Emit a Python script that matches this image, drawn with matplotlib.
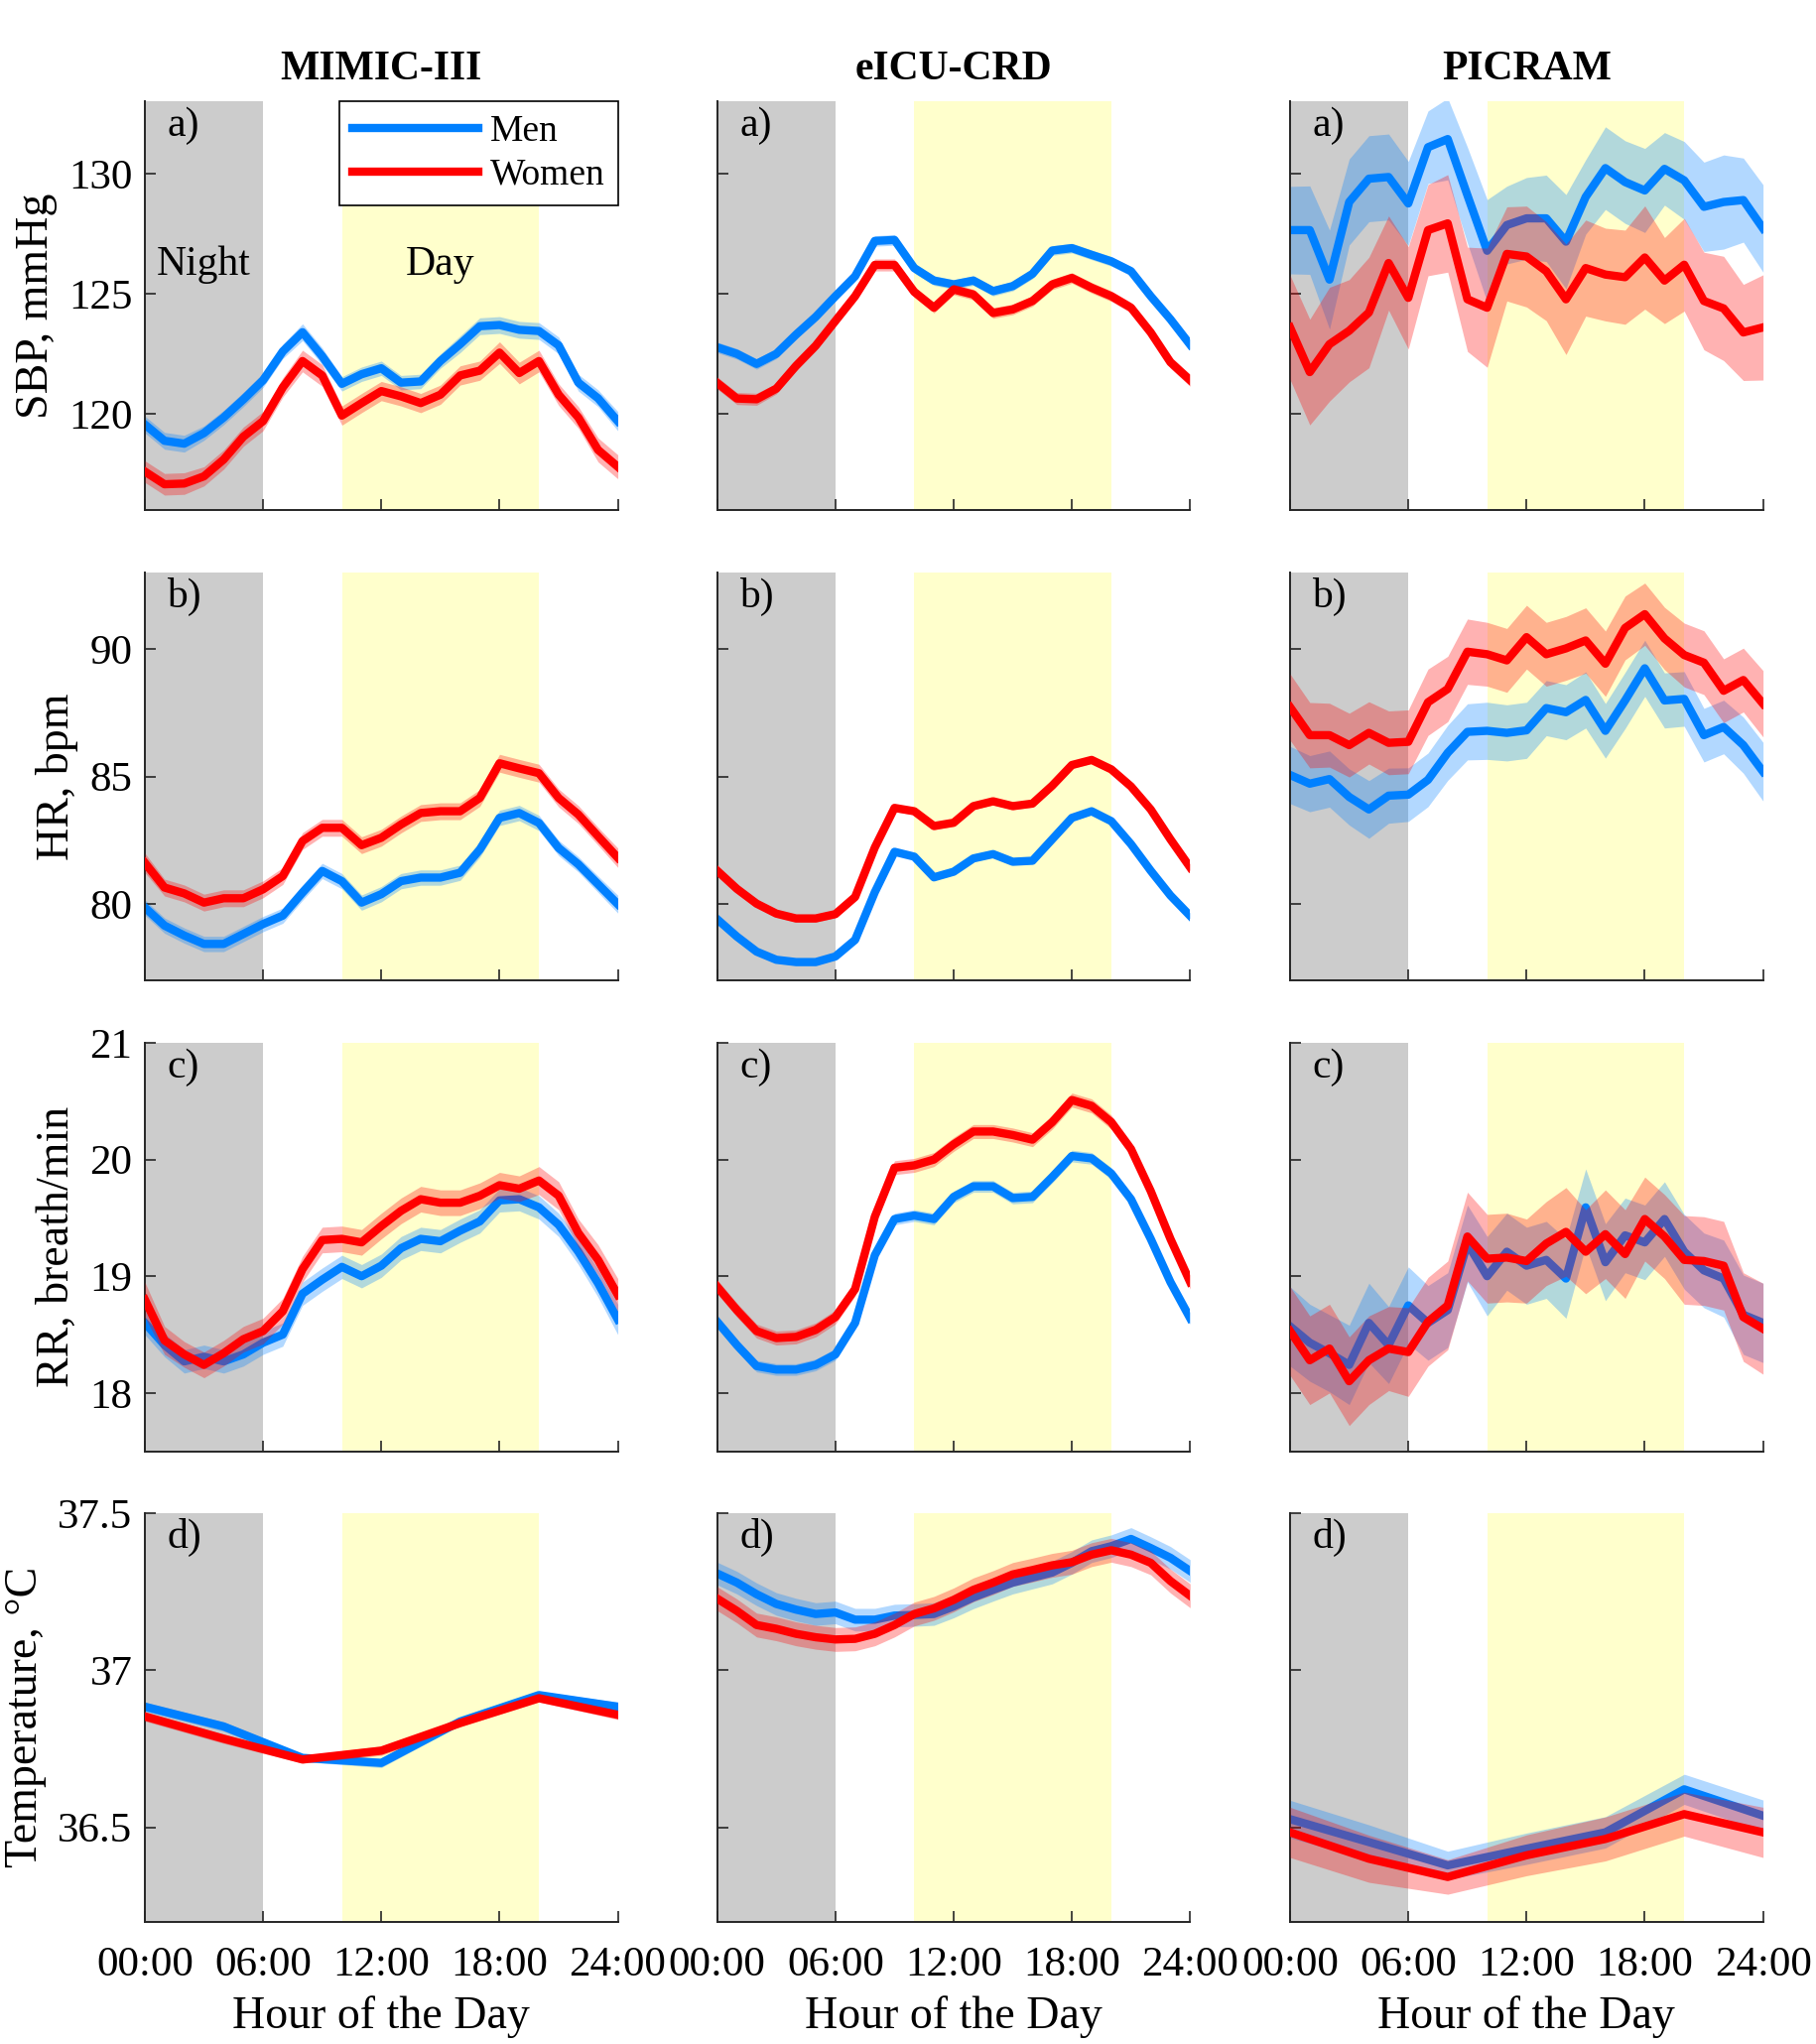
import matplotlib
matplotlib.use('Agg')
import matplotlib.pyplot as plt

plt.rcParams['font.family'] = ['Liberation Serif', 'DejaVu Serif']

# ---- data ----
hours = list(range(25))
temp_hours_sparse = [0, 4, 8, 12, 16, 20, 24]

datasets = ['MIMIC-III', 'eICU-CRD', 'PICRAM']
panel_tags = ['a)', 'b)', 'c)', 'd)']
y_labels = ['SBP, mmHg', 'HR, bpm', 'RR, breath/min', 'Temperature, °C']
y_ticks = [[120, 125, 130], [80, 85, 90], [18, 19, 20, 21], [36.5, 37, 37.5]]
y_ticklabels = [['120', '125', '130'], ['80', '85', '90'], ['18', '19', '20', '21'],
                ['36.5', '37', '37.5']]
y_limits = [(116, 133), (77, 93), (17.5, 21), (36.2, 37.5)]
x_ticks = [0, 6, 12, 18, 24]
x_ticklabels = ['00:00', '06:00', '12:00', '18:00', '24:00']

# SBP
mimic_sbp_men = [119.56, 118.88, 118.76, 119.2, 119.85, 120.6, 121.4, 122.6, 123.4, 122.4, 121.25, 121.65,
                 121.9, 121.3, 121.35, 122.2, 122.9, 123.65, 123.7, 123.5, 123.45, 122.85, 121.3, 120.65, 119.7]
mimic_sbp_men_ci = [0.35, 0.35, 0.35, 0.3, 0.3, 0.3, 0.3, 0.3, 0.35, 0.35, 0.3, 0.3,
                    0.3, 0.3, 0.3, 0.3, 0.35, 0.35, 0.35, 0.35, 0.35, 0.35, 0.35, 0.35, 0.4]
mimic_sbp_women = [117.6, 117.07, 117.1, 117.4, 118.1, 119.05, 119.7, 121.1, 122.2, 121.6, 119.93, 120.45,
                   120.95, 120.73, 120.45, 120.8, 121.6, 121.8, 122.55, 121.7, 122.2, 120.8, 119.85, 118.5, 117.8]
mimic_sbp_women_ci = [0.45, 0.45, 0.45, 0.4, 0.4, 0.4, 0.4, 0.4, 0.45, 0.45, 0.4, 0.4,
                      0.4, 0.4, 0.4, 0.4, 0.4, 0.4, 0.45, 0.45, 0.45, 0.45, 0.45, 0.5, 0.5]

eicu_sbp_men = [122.77, 122.5, 122.08, 122.5, 123.3, 124.04, 124.9, 125.73, 127.2, 127.24, 126.07, 125.55,
                125.39, 125.55, 125.11, 125.32, 125.83, 126.8, 126.9, 126.62, 126.35, 125.94, 124.9, 123.94, 122.88]
eicu_sbp_men_ci = [0.22, 0.22, 0.22, 0.2, 0.2, 0.2, 0.2, 0.2, 0.22, 0.22, 0.2, 0.2,
                   0.2, 0.2, 0.2, 0.2, 0.2, 0.2, 0.2, 0.2, 0.2, 0.2, 0.2, 0.22, 0.22]
eicu_sbp_women = [121.29, 120.64, 120.61, 121.05, 122.0, 122.84, 123.87, 124.9, 126.2, 126.2, 125.08, 124.42,
                  125.18, 124.97, 124.2, 124.35, 124.7, 125.39, 125.66, 125.25, 124.9, 124.42, 123.39, 122.15, 121.4]
eicu_sbp_women_ci = [0.25, 0.25, 0.25, 0.22, 0.22, 0.22, 0.22, 0.22, 0.25, 0.25, 0.22, 0.22,
                     0.22, 0.22, 0.22, 0.22, 0.22, 0.22, 0.22, 0.22, 0.22, 0.22, 0.22, 0.25, 0.25]

picram_sbp_men = [127.65, 127.65, 125.59, 128.82, 129.79, 129.86, 128.76, 131.1, 131.44, 129.1, 126.79, 127.86,
                  128.14, 128.14, 127.17, 129.03, 130.23, 129.65, 129.3, 130.2, 129.72, 128.62, 128.82, 128.9, 127.72]
picram_sbp_men_ci = [1.82, 1.84, 2.06, 1.79, 1.79, 1.79, 1.75, 1.51, 1.7, 2.0, 2.13, 1.62,
                     1.7, 1.8, 1.96, 1.55, 1.72, 1.72, 1.75, 1.51, 1.62, 1.86, 1.96, 1.75, 1.82]
picram_sbp_women = [123.6, 121.74, 122.9, 123.46, 124.22, 126.28, 124.83, 127.65, 127.93, 124.77, 124.42, 126.66,
                    126.55, 125.94, 124.77, 126.07, 125.8, 125.69, 126.51, 125.55, 126.21, 124.7, 124.39, 123.39, 123.6]
picram_sbp_women_ci = [2.17, 2.2, 2.37, 2.13, 2.3, 1.96, 2.13, 1.9, 2.03, 2.17, 2.48, 1.96,
                       2.1, 2.06, 2.3, 2.0, 1.93, 1.96, 2.15, 1.79, 1.93, 2.03, 2.17, 2.0, 2.19]

# HR
mimic_hr_men = [79.87, 79.16, 78.77, 78.44, 78.44, 78.83, 79.22, 79.55, 80.45, 81.3, 80.9, 80.06,
                80.39, 80.9, 81.04, 81.04, 81.23, 82.14, 83.38, 83.57, 83.18, 82.2, 81.56, 80.78, 80.0]
mimic_hr_men_ci = [0.3, 0.3, 0.3, 0.3, 0.3, 0.3, 0.3, 0.3, 0.3, 0.3, 0.3, 0.3,
                   0.3, 0.3, 0.3, 0.3, 0.3, 0.3, 0.3, 0.3, 0.3, 0.3, 0.3, 0.32, 0.35]
mimic_hr_women = [81.62, 80.65, 80.42, 80.06, 80.23, 80.23, 80.58, 81.1, 82.47, 82.99, 82.99, 82.31,
                  82.6, 83.12, 83.57, 83.64, 83.64, 84.16, 85.52, 85.32, 85.13, 84.16, 83.51, 82.66, 81.82]
mimic_hr_women_ci = [0.38, 0.33, 0.33, 0.33, 0.33, 0.33, 0.33, 0.33, 0.33, 0.33, 0.33, 0.33,
                     0.33, 0.33, 0.33, 0.33, 0.33, 0.33, 0.35, 0.35, 0.35, 0.35, 0.35, 0.35, 0.38]

eicu_hr_men = [79.41, 78.73, 78.14, 77.82, 77.73, 77.73, 77.95, 78.6, 80.47, 82.05, 81.86, 81.05,
               81.27, 81.79, 81.96, 81.66, 81.7, 82.54, 83.38, 83.64, 83.25, 82.35, 81.31, 80.34, 79.54]
eicu_hr_men_ci = [0.12, 0.12, 0.12, 0.12, 0.12, 0.12, 0.12, 0.12, 0.12, 0.12, 0.12, 0.12,
                  0.12, 0.12, 0.12, 0.12, 0.12, 0.12, 0.12, 0.12, 0.12, 0.12, 0.12, 0.12, 0.12]
eicu_hr_women = [81.31, 80.6, 80.02, 79.63, 79.44, 79.44, 79.61, 80.28, 82.22, 83.77, 83.64, 83.06,
                 83.19, 83.84, 84.03, 83.84, 83.94, 84.64, 85.45, 85.65, 85.28, 84.61, 83.71, 82.54, 81.44]
eicu_hr_women_ci = [0.14, 0.14, 0.14, 0.14, 0.14, 0.14, 0.14, 0.14, 0.14, 0.14, 0.14, 0.14,
                    0.14, 0.14, 0.14, 0.14, 0.14, 0.14, 0.14, 0.14, 0.14, 0.14, 0.14, 0.14, 0.14]

picram_hr_men = [85.06, 84.72, 84.9, 84.2, 83.71, 84.25, 84.29, 84.87, 85.93, 86.75, 86.79, 86.71,
                 86.81, 87.68, 87.52, 88.0, 86.79, 87.98, 89.24, 87.98, 88.04, 86.62, 86.94, 86.23, 85.19]
picram_hr_men_ci = [1.12, 1.1, 1.1, 1.1, 1.13, 1.08, 1.05, 1.05, 1.08, 1.1, 1.12, 1.1,
                    1.1, 1.08, 1.08, 1.1, 1.07, 1.1, 1.1, 1.08, 1.07, 1.05, 1.05, 1.1, 1.15]
picram_hr_women = [87.72, 86.62, 86.62, 86.23, 86.71, 86.32, 86.36, 87.91, 88.43, 89.89, 89.79, 89.55,
                   90.46, 89.79, 90.02, 90.33, 89.42, 90.82, 91.36, 90.41, 89.76, 89.46, 88.36, 88.78, 87.85]
picram_hr_women_ci = [1.3, 1.28, 1.25, 1.25, 1.22, 1.25, 1.25, 1.3, 1.28, 1.28, 1.25, 1.25,
                      1.25, 1.25, 1.25, 1.28, 1.28, 1.25, 1.22, 1.22, 1.25, 1.25, 1.25, 1.25, 1.3]

# RR
mimic_rr_men = [18.6, 18.41, 18.27, 18.31, 18.27, 18.33, 18.43, 18.5, 18.85, 18.97, 19.08, 19.0,
                19.09, 19.24, 19.32, 19.3, 19.39, 19.47, 19.65, 19.66, 19.59, 19.44, 19.21, 18.94, 18.63]
mimic_rr_men_ci = [0.1, 0.1, 0.1, 0.1, 0.1, 0.1, 0.1, 0.1, 0.1, 0.1, 0.1, 0.1,
                   0.1, 0.1, 0.1, 0.1, 0.1, 0.1, 0.1, 0.1, 0.1, 0.1, 0.11, 0.12, 0.13]
mimic_rr_women = [18.8, 18.45, 18.33, 18.24, 18.34, 18.46, 18.53, 18.7, 19.06, 19.31, 19.32, 19.29,
                  19.43, 19.56, 19.66, 19.63, 19.63, 19.69, 19.78, 19.75, 19.82, 19.69, 19.37, 19.14, 18.84]
mimic_rr_women_ci = [0.15, 0.12, 0.11, 0.11, 0.11, 0.11, 0.11, 0.11, 0.11, 0.11, 0.11, 0.11,
                     0.11, 0.11, 0.11, 0.11, 0.11, 0.11, 0.11, 0.11, 0.12, 0.12, 0.12, 0.13, 0.14]

eicu_rr_men = [18.61, 18.41, 18.23, 18.2, 18.2, 18.24, 18.33, 18.6, 19.18, 19.49, 19.52, 19.49,
               19.68, 19.77, 19.77, 19.67, 19.68, 19.85, 20.03, 20.01, 19.88, 19.66, 19.32, 18.95, 18.64]
eicu_rr_men_ci = [0.05, 0.05, 0.05, 0.05, 0.05, 0.05, 0.05, 0.05, 0.05, 0.05, 0.05, 0.05,
                  0.05, 0.05, 0.05, 0.05, 0.05, 0.05, 0.05, 0.05, 0.05, 0.05, 0.05, 0.05, 0.05]
eicu_rr_women = [18.91, 18.71, 18.53, 18.47, 18.48, 18.54, 18.65, 18.89, 19.51, 19.93, 19.95, 20.0,
                 20.13, 20.24, 20.24, 20.21, 20.17, 20.32, 20.51, 20.46, 20.32, 20.09, 19.73, 19.32, 18.95]
eicu_rr_women_ci = [0.06, 0.06, 0.06, 0.06, 0.06, 0.06, 0.06, 0.06, 0.06, 0.06, 0.06, 0.06,
                    0.06, 0.06, 0.06, 0.06, 0.06, 0.06, 0.06, 0.06, 0.06, 0.06, 0.06, 0.06, 0.06]

picram_rr_men = [18.57, 18.43, 18.34, 18.24, 18.6, 18.41, 18.75, 18.6, 18.71, 19.28, 19.0, 19.21,
                 19.09, 19.14, 18.98, 19.59, 19.12, 19.35, 19.29, 19.49, 19.21, 19.05, 18.98, 18.67, 18.6]
picram_rr_men_ci = [0.34, 0.33, 0.33, 0.34, 0.34, 0.33, 0.33, 0.32, 0.32, 0.33, 0.34, 0.33,
                    0.33, 0.33, 0.34, 0.33, 0.33, 0.32, 0.32, 0.32, 0.32, 0.32, 0.33, 0.34, 0.34]
picram_rr_women = [18.53, 18.28, 18.38, 18.1, 18.28, 18.38, 18.35, 18.61, 18.75, 19.34, 19.15, 19.16,
                   19.13, 19.28, 19.38, 19.21, 19.36, 19.19, 19.49, 19.34, 19.14, 19.13, 19.09, 18.65, 18.55]
picram_rr_women_ci = [0.38, 0.38, 0.38, 0.38, 0.38, 0.36, 0.38, 0.38, 0.38, 0.38, 0.38, 0.38,
                      0.36, 0.36, 0.38, 0.36, 0.38, 0.38, 0.36, 0.36, 0.38, 0.38, 0.38, 0.38, 0.39]

# Temperature (MIMIC-III and PICRAM sampled every 4 h)
mimic_temp_men = [36.884, 36.821, 36.721, 36.705, 36.837, 36.921, 36.884]
mimic_temp_men_ci = [0.015, 0.015, 0.012, 0.015, 0.012, 0.012, 0.015]
mimic_temp_women = [36.853, 36.782, 36.716, 36.744, 36.832, 36.911, 36.858]
mimic_temp_women_ci = [0.015, 0.015, 0.012, 0.015, 0.012, 0.012, 0.015]

eicu_temp_men = [37.308, 37.279, 37.242, 37.211, 37.193, 37.179, 37.184, 37.161, 37.161, 37.174, 37.176, 37.179,
                 37.203, 37.232, 37.256, 37.279, 37.295, 37.311, 37.342, 37.379, 37.395, 37.418, 37.389, 37.358, 37.316]
eicu_temp_men_ci = [0.036, 0.036, 0.036, 0.036, 0.036, 0.036, 0.036, 0.036, 0.036, 0.036, 0.036, 0.036,
                    0.036, 0.036, 0.036, 0.036, 0.036, 0.036, 0.036, 0.036, 0.036, 0.036, 0.036, 0.036, 0.036]
eicu_temp_women = [37.228, 37.189, 37.144, 37.132, 37.116, 37.105, 37.098, 37.1, 37.116, 37.144, 37.179, 37.197,
                   37.224, 37.256, 37.279, 37.305, 37.319, 37.334, 37.344, 37.368, 37.382, 37.368, 37.342, 37.284, 37.237]
eicu_temp_women_ci = [0.038, 0.038, 0.038, 0.038, 0.038, 0.038, 0.038, 0.038, 0.038, 0.038, 0.038, 0.038,
                      0.038, 0.038, 0.038, 0.038, 0.038, 0.038, 0.038, 0.038, 0.038, 0.038, 0.038, 0.038, 0.038]

picram_temp_men = [36.526, 36.453, 36.379, 36.432, 36.484, 36.621, 36.537]
picram_temp_men_ci = [0.06, 0.055, 0.045, 0.05, 0.05, 0.048, 0.05]
picram_temp_women = [36.484, 36.4, 36.342, 36.411, 36.463, 36.542, 36.484]
picram_temp_women_ci = [0.08, 0.075, 0.055, 0.065, 0.07, 0.07, 0.08]

# grid of panels: rows = variable, columns = dataset
panels = [
    [(hours, mimic_sbp_men, mimic_sbp_men_ci, mimic_sbp_women, mimic_sbp_women_ci),
     (hours, eicu_sbp_men, eicu_sbp_men_ci, eicu_sbp_women, eicu_sbp_women_ci),
     (hours, picram_sbp_men, picram_sbp_men_ci, picram_sbp_women, picram_sbp_women_ci)],
    [(hours, mimic_hr_men, mimic_hr_men_ci, mimic_hr_women, mimic_hr_women_ci),
     (hours, eicu_hr_men, eicu_hr_men_ci, eicu_hr_women, eicu_hr_women_ci),
     (hours, picram_hr_men, picram_hr_men_ci, picram_hr_women, picram_hr_women_ci)],
    [(hours, mimic_rr_men, mimic_rr_men_ci, mimic_rr_women, mimic_rr_women_ci),
     (hours, eicu_rr_men, eicu_rr_men_ci, eicu_rr_women, eicu_rr_women_ci),
     (hours, picram_rr_men, picram_rr_men_ci, picram_rr_women, picram_rr_women_ci)],
    [(temp_hours_sparse, mimic_temp_men, mimic_temp_men_ci, mimic_temp_women, mimic_temp_women_ci),
     (hours, eicu_temp_men, eicu_temp_men_ci, eicu_temp_women, eicu_temp_women_ci),
     (temp_hours_sparse, picram_temp_men, picram_temp_men_ci, picram_temp_women, picram_temp_women_ci)],
]

# ---- styling ----
men_color = '#0080ff'
women_color = '#ff0000'
night_color = '#cccccc'
day_color = '#ffffcc'
axis_color = '#262626'

col_left = [0.0797, 0.3947, 0.7100]
row_bottom = [0.7505, 0.5202, 0.2900, 0.0599]
ax_w = 0.2603
ax_h = 0.1998

fig = plt.figure(figsize=(18.31, 20.60), dpi=100)

for r in range(4):
    for c in range(3):
        ax = fig.add_axes([col_left[c], row_bottom[r], ax_w, ax_h])
        x, m, mci, w, wci = panels[r][c]

        ax.axvspan(0, 6, color=night_color, lw=0, zorder=0)
        ax.axvspan(10, 20, color=day_color, lw=0, zorder=0)

        ax.fill_between(x, [a - b for a, b in zip(m, mci)], [a + b for a, b in zip(m, mci)],
                        color=men_color, alpha=0.3, lw=0, zorder=1)
        ax.plot(x, m, color=men_color, lw=6, zorder=2, label='Men')
        ax.fill_between(x, [a - b for a, b in zip(w, wci)], [a + b for a, b in zip(w, wci)],
                        color=women_color, alpha=0.3, lw=0, zorder=3)
        ax.plot(x, w, color=women_color, lw=6, zorder=4, label='Women')

        ax.set_xlim(0, 24)
        ax.set_ylim(*y_limits[r])
        ax.set_xticks(x_ticks)
        ax.set_yticks(y_ticks[r])
        if r == 3:
            ax.set_xticklabels(x_ticklabels)
            ax.set_xlabel('Hour of the Day', fontsize=33, labelpad=8)
        else:
            ax.set_xticklabels([])
        if c == 0:
            ax.set_yticklabels(y_ticklabels[r])
            ax.set_ylabel(y_labels[r], fontsize=33, labelpad=8)
        else:
            ax.set_yticklabels([])

        for side in ['top', 'right']:
            ax.spines[side].set_visible(False)
        for side in ['left', 'bottom']:
            ax.spines[side].set_color(axis_color)
            ax.spines[side].set_linewidth(1.4)
        ax.tick_params(direction='in', length=8, width=1.2, colors=axis_color,
                       labelsize=31, labelcolor='black')
        ax.tick_params(axis='x', pad=18)
        ax.tick_params(axis='y', pad=9)

        ax.text(0.047, 0.94, panel_tags[r], transform=ax.transAxes,
                ha='left', va='center', fontsize=30, zorder=6)

        if r == 0:
            ax.set_title(datasets[c], fontsize=30, fontweight='bold', pad=16)
        if r == 0 and c == 0:
            ax.text(3, 126.2, 'Night', ha='center', va='center', fontsize=30, zorder=6)
            ax.text(15, 126.2, 'Day', ha='center', va='center', fontsize=30, zorder=6)
            leg = ax.legend(loc='upper right', fontsize=27, frameon=True, fancybox=False,
                            framealpha=1, edgecolor='black', borderaxespad=0,
                            handlelength=3.4, handletextpad=0.3, borderpad=0.35,
                            labelspacing=0.25)
            leg.get_frame().set_linewidth(1.2)
            leg.set_zorder(10)

fig.savefig('out.png', dpi=100)
